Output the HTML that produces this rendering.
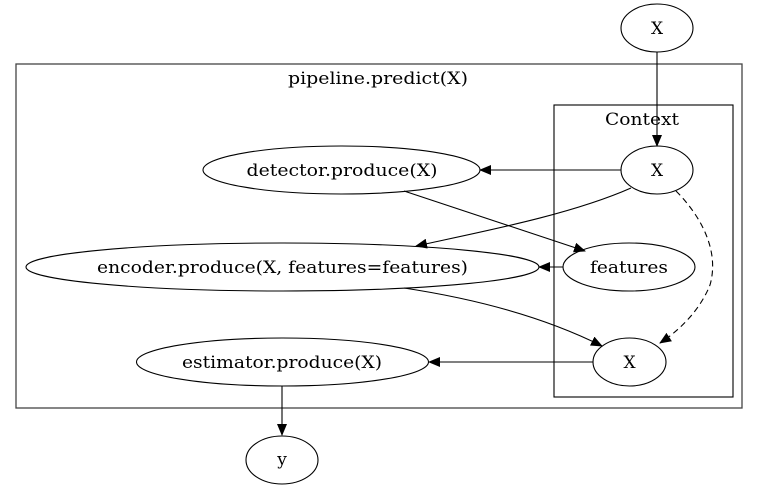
<!DOCTYPE html>
<html><head><meta charset="utf-8"><style>
html,body{margin:0;padding:0;background:#fff;}
svg{display:block;}
text{font-family:"DejaVu Serif","Liberation Serif",serif;font-size:17px;fill:#000;}
</style></head><body>
<svg width="759" height="488" viewBox="0 0 759 488" xmlns="http://www.w3.org/2000/svg">
<defs>
<marker id="a" markerWidth="12" markerHeight="10" refX="11" refY="5" orient="auto" markerUnits="userSpaceOnUse">
<path d="M0,0 L12,5 L0,10 Z" fill="#000"/>
</marker>
</defs>
<g fill="none" stroke="#000" stroke-width="1.1">
<rect x="16" y="64" width="726" height="344" stroke="#444" stroke-width="1.3"/>
<rect x="554" y="105" width="179" height="292"/>
<ellipse cx="657" cy="28" rx="36" ry="24"/>
<ellipse cx="657" cy="170" rx="36" ry="24"/>
<ellipse cx="341.5" cy="170" rx="138.5" ry="24"/>
<ellipse cx="629" cy="267" rx="66" ry="24"/>
<ellipse cx="282.5" cy="267" rx="256.5" ry="24"/>
<ellipse cx="629.5" cy="362" rx="36.5" ry="24"/>
<ellipse cx="282.5" cy="362" rx="146" ry="24"/>
<ellipse cx="282" cy="460" rx="36" ry="24"/>
<path d="M657,52 L657,146" marker-end="url(#a)"/>
<path d="M621,170 L480,170" marker-end="url(#a)"/>
<path d="M631,188 C570,215 480,232 416,246" marker-end="url(#a)"/>
<path d="M676,191 C700,215 720,250 710,285 C700,310 680,330 660,343" stroke-dasharray="6,4" marker-end="url(#a)"/>
<path d="M404,191 L585,251" marker-end="url(#a)"/>
<path d="M563,267 L539,267" marker-end="url(#a)"/>
<path d="M404,288 C470,298 540,315 602,346" marker-end="url(#a)"/>
<path d="M593,362 L429,362" marker-end="url(#a)"/>
<path d="M282,386 L282,435" marker-end="url(#a)"/>
</g>
<g text-anchor="middle">
<text x="378" y="84" textLength="180" lengthAdjust="spacingAndGlyphs">pipeline.predict(X)</text>
<text x="642" y="125" textLength="74" lengthAdjust="spacingAndGlyphs">Context</text>
<text x="657" y="34">X</text>
<text x="657" y="176">X</text>
<text x="342" y="176" textLength="191" lengthAdjust="spacingAndGlyphs">detector.produce(X)</text>
<text x="629" y="273" textLength="78" lengthAdjust="spacingAndGlyphs">features</text>
<text x="282.5" y="273" textLength="371" lengthAdjust="spacingAndGlyphs">encoder.produce(X, features=features)</text>
<text x="629.5" y="368">X</text>
<text x="282" y="368" textLength="200" lengthAdjust="spacingAndGlyphs">estimator.produce(X)</text>
<text x="282" y="465">y</text>
</g>
</svg>
</body></html>
